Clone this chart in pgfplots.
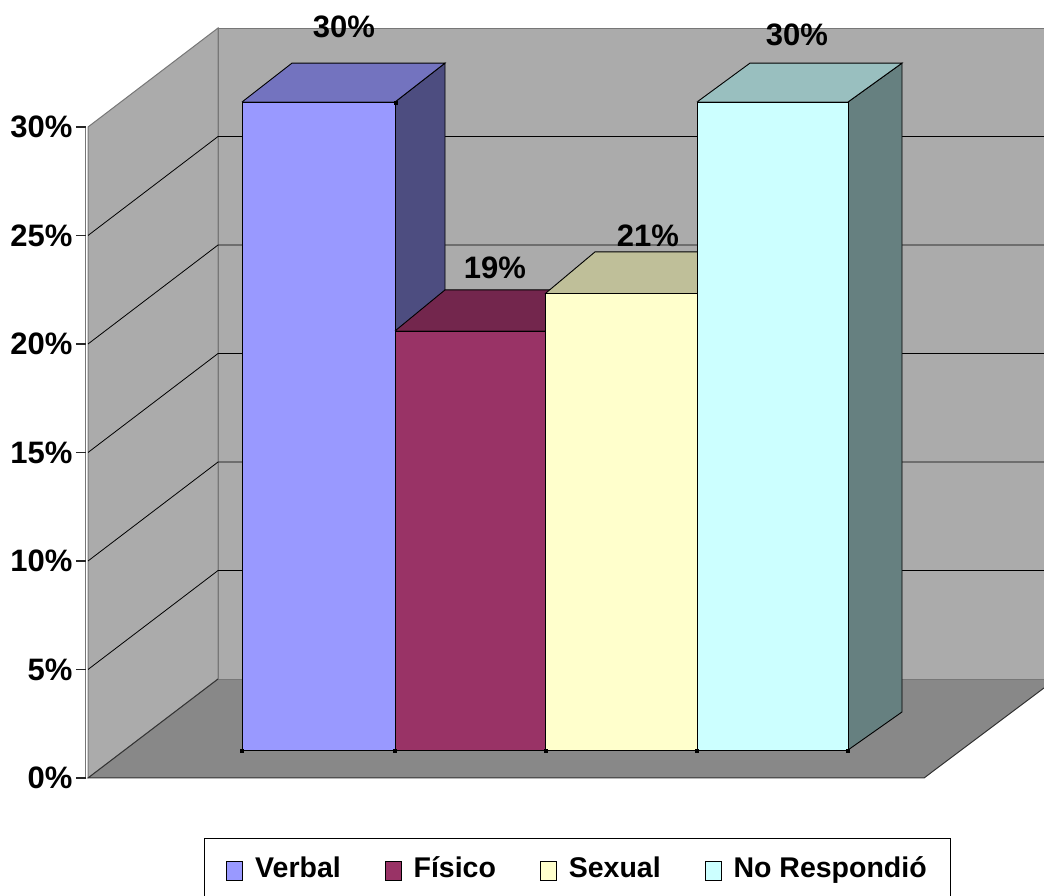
\documentclass[border=0pt]{standalone}
\usepackage{fontspec}
\setmainfont{Liberation Sans}
\usepackage{pgfplots}
\pgfplotsset{compat=1.18}
\definecolor{wall}{HTML}{ABABAB}
\definecolor{floorc}{HTML}{888888}
\definecolor{edgeg}{HTML}{777777}
\definecolor{bluef}{HTML}{9999FF}
\definecolor{bluet}{HTML}{7373BF}
\definecolor{blues}{HTML}{4D4D80}
\definecolor{pinkf}{HTML}{993366}
\definecolor{pinkt}{HTML}{73264D}
\definecolor{yelf}{HTML}{FFFFCC}
\definecolor{yelt}{HTML}{BFBF99}
\definecolor{cyaf}{HTML}{CCFFFF}
\definecolor{cyat}{HTML}{99BFBF}
\definecolor{cyas}{HTML}{668080}
\begin{document}
\begin{tikzpicture}
\useasboundingbox (0,0) rectangle (1044pt,896pt);
% frame of the chart: walls, floor, gridlines, value axis
\begin{axis}[
  at={(85.5pt,118pt)}, anchor=south west,
  scale only axis, width=958.5pt, height=651pt,
  xmin=85.5, xmax=1044, ymin=0, ymax=30,
  clip=false,
  axis x line=none, axis y line*=left,
  y axis line style={draw=none},
  ytick={0,5,10,15,20,25,30},
  major tick length=0pt,
  yticklabel={\pgfmathparse{int(\tick)}\pgfmathresult\%},
  yticklabel style={font=\bfseries\fontsize{31}{31}\selectfont, xshift=-9.5pt},
]
\addplot[edgeg, line width=1.2pt] coordinates {(85.5,0)(85.5,30)};
\addplot[black!85, line width=1.1pt] coordinates {(76,0)(86,0)};
\addplot[black!85, line width=1.1pt] coordinates {(76,5)(86,5)};
\addplot[black!85, line width=1.1pt] coordinates {(76,10)(86,10)};
\addplot[black!85, line width=1.1pt] coordinates {(76,15)(86,15)};
\addplot[black!85, line width=1.1pt] coordinates {(76,20)(86,20)};
\addplot[black!85, line width=1.1pt] coordinates {(76,25)(86,25)};
\addplot[black!85, line width=1.1pt] coordinates {(76,30)(86,30)};
\addplot[fill=wall, draw=edgeg, line width=1pt] coordinates {(88,0)(218,4.56)(218,34.56)(88,30)(88,0)};
\addplot[fill=wall, draw=edgeg, line width=1pt] coordinates {(218,4.56)(1044,4.56)(1044,34.56)(218,34.56)(218,4.56)};
\addplot[fill=floorc, draw=none] coordinates {(88,0)(218,4.56)(1044,4.56)(1044,4.15)(924,0)(88,0)};
\addplot[edgeg, line width=1pt] coordinates {(218,4.56)(1044,4.56)};
\addplot[black!80, line width=1pt] coordinates {(1044,4.15)(924,0)(88,0)(218,4.56)};
\addplot[black, line width=0.8pt] coordinates {(88,5)(218,9.56)(1044,9.56)};
\addplot[black, line width=0.8pt] coordinates {(88,10)(218,14.56)(1044,14.56)};
\addplot[black, line width=0.8pt] coordinates {(88,15)(218,19.56)(1044,19.56)};
\addplot[black, line width=0.8pt] coordinates {(88,20)(218,24.56)(1044,24.56)};
\addplot[black, line width=0.8pt] coordinates {(88,25)(218,29.56)(1044,29.56)};
\end{axis}
% the bars, in their front plane: 0 to 30 percent
\begin{axis}[
  at={(0pt,146pt)}, anchor=south west,
  scale only axis, width=1044pt, height=648pt,
  xmin=0, xmax=1044, ymin=0, ymax=30,
  clip=false, hide axis,
  legend style={at={(0.5532,-0.1821)}, anchor=center, draw=black, line width=1pt,
    legend columns=4, font=\bfseries\fontsize{28.5}{30}\selectfont,
    inner xsep=22pt, inner ysep=16pt,
    /tikz/every even column/.append style={column sep=42pt}},
  legend cell align=left,
  legend image code/.code={\draw[#1, line width=0.8pt] (0pt,-12pt) rectangle (16pt,7pt); \path (26pt,0pt);},
]
% Verbal
\addplot[fill=blues, draw=black, line width=0.9pt, forget plot] coordinates {(395,0)(445,1.78)(445,31.8)(395,30)(395,0)};
\addplot[fill=bluet, draw=black, line width=0.9pt, forget plot] coordinates {(242,30)(292,31.8)(445,31.8)(395,30)(242,30)};
\addplot[fill=bluef, draw=black, line width=0.9pt] coordinates {(242,0)(395,0)(395,30)(242,30)(242,0)};
\addlegendentry{Verbal}
% Fisico
\addplot[fill=pinkt, draw=black, line width=0.9pt, forget plot] coordinates {(395,19.4)(445,21.3)(595,21.3)(545,19.4)(395,19.4)};
\addplot[fill=pinkf, draw=black, line width=0.9pt] coordinates {(395,0)(545,0)(545,19.4)(395,19.4)(395,0)};
\addlegendentry{Físico}
% Sexual
\addplot[fill=yelt, draw=black, line width=0.9pt, forget plot] coordinates {(545,21.12)(595,23.06)(747,23.06)(697,21.12)(545,21.12)};
\addplot[fill=yelf, draw=black, line width=0.9pt] coordinates {(545,0)(697,0)(697,21.12)(545,21.12)(545,0)};
\addlegendentry{Sexual}
% No respondio
\addplot[fill=cyas, draw=black, line width=0.9pt, forget plot] coordinates {(848,0)(902,1.76)(902,31.8)(848,30)(848,0)};
\addplot[fill=cyat, draw=black, line width=0.9pt, forget plot] coordinates {(697,30)(750,31.8)(902,31.8)(848,30)(697,30)};
\addplot[fill=cyaf, draw=black, line width=0.9pt] coordinates {(697,0)(848,0)(848,30)(697,30)(697,0)};
\addlegendentry{No Respondió}
% small category ticks at the foot of the bars
\addplot[only marks, mark=square*, mark size=1.5pt, black, forget plot] coordinates {(242,-0.05)(395,-0.05)(546,-0.05)(697,-0.05)(848,-0.05)(396,29.95)};
\node[font=\bfseries\fontsize{31}{31}\selectfont] at (axis cs:344,33.47) {30\%};
\node[font=\bfseries\fontsize{31}{31}\selectfont] at (axis cs:495,22.31) {19\%};
\node[font=\bfseries\fontsize{31}{31}\selectfont] at (axis cs:648,23.8) {21\%};
\node[font=\bfseries\fontsize{31}{31}\selectfont] at (axis cs:797,33.1) {30\%};
\end{axis}
\end{tikzpicture}
\end{document}
